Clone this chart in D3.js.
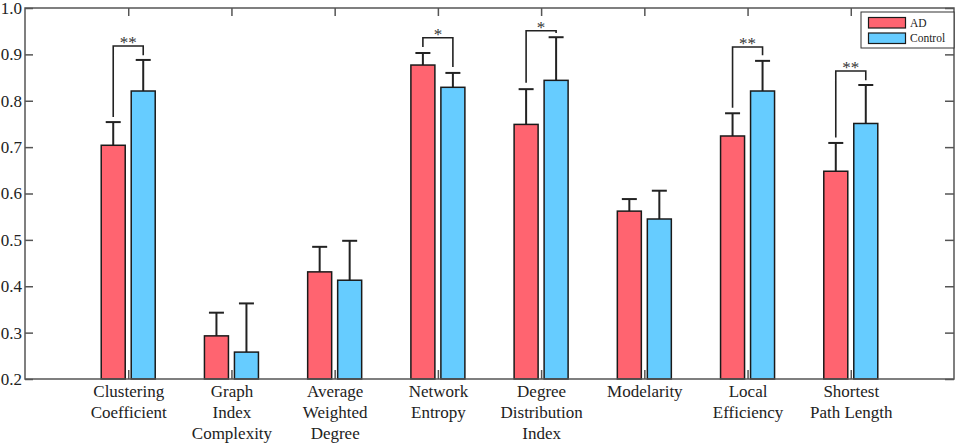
<!DOCTYPE html>
<html>
<head>
<meta charset="utf-8">
<script src="https://cdn.jsdelivr.net/npm/d3@7"></script>
<style>
  body { margin: 0; background: #fff; }
  text { font-family: "Liberation Serif", "Times New Roman", serif; }
</style>
</head>
<body>
<div class="chartBox"></div>
<script>
// chart values
var categories = ["Clustering Coefficient", "Graph Index Complexity", "Average Weighted Degree",
    "Network Entropy", "Degree Distribution Index", "Modelarity", "Local Efficiency", "Shortest Path Length"];
var labelLines = [["Clustering", "Coefficient"], ["Graph", "Index", "Complexity"], ["Average", "Weighted", "Degree"],
    ["Network", "Entropy"], ["Degree", "Distribution", "Index"], ["Modelarity"], ["Local", "Efficiency"], ["Shortest", "Path Length"]];
var adMean = [0.704, 0.293, 0.431, 0.877, 0.749, 0.562, 0.724, 0.648];
var adErr = [0.050, 0.050, 0.054, 0.026, 0.076, 0.026, 0.049, 0.061];
var ctlMean = [0.821, 0.258, 0.413, 0.829, 0.844, 0.545, 0.821, 0.751];
var ctlErr = [0.067, 0.105, 0.085, 0.031, 0.093, 0.061, 0.065, 0.083];
var yTicks = [0.2, 0.3, 0.4, 0.5, 0.6, 0.7, 0.8, 0.9, 1.0];
var groups = ["AD", "Control"];

// significance brackets
var sigCat = [0, 3, 4, 6, 7];
var sigTop = [0.918, 0.936, 0.951, 0.916, 0.864];
var sigLeft = [0.765, 0.916, 0.839, 0.785, 0.721];
var sigRight = [0.898, 0.873, 0.946, 0.898, 0.844];
var sigLabel = ["**", "*", "*", "**", "**"];

var W = 957, H = 447;
var margin = { top: 8, right: 3, bottom: 68, left: 25 };
var colors = { AD: "#ff6470", Control: "#66ccff" };

var svg = d3.select('.chartBox').append('svg')
    .attr('width', W)
    .attr('height', H);

var x = d3.scalePoint()
    .domain(categories)
    .range([margin.left, W - margin.right])
    .padding(1);

var y = d3.scaleLinear()
    .domain([0.2, 1.0])
    .range([H - margin.bottom, margin.top]);

var off = d3.scaleOrdinal().domain(groups).range([-15, 15]);
var barW = 24;

// bars
var rows = [];
categories.forEach(function (c, i) {
    rows.push({ cat: c, g: "AD", v: adMean[i], e: adErr[i] });
    rows.push({ cat: c, g: "Control", v: ctlMean[i], e: ctlErr[i] });
});

// error bars (drawn first so bars cover the stem base)
var eb = svg.append('g').attr('stroke', '#222').attr('stroke-width', 2);
eb.selectAll('.stem').data(rows).enter().append('line')
    .attr('x1', d => x(d.cat) + off(d.g))
    .attr('x2', d => x(d.cat) + off(d.g))
    .attr('y1', d => y(d.v))
    .attr('y2', d => y(d.v + d.e));
eb.selectAll('.cap').data(rows).enter().append('line')
    .attr('x1', d => x(d.cat) + off(d.g) - 7.5)
    .attr('x2', d => x(d.cat) + off(d.g) + 7.5)
    .attr('y1', d => y(d.v + d.e))
    .attr('y2', d => y(d.v + d.e));

svg.append('g').selectAll('rect').data(rows).enter().append('rect')
    .attr('x', d => x(d.cat) + off(d.g) - barW / 2)
    .attr('y', d => y(d.v))
    .attr('width', barW)
    .attr('height', d => y(0.2) - y(d.v))
    .attr('fill', d => colors[d.g])
    .attr('stroke', '#1a1a1a')
    .attr('stroke-width', 1.5);

// brackets
var br = svg.append('g');
sigCat.forEach(function (ci, k) {
    var c = categories[ci];
    var xl = x(c) + off("AD"), xr = x(c) + off("Control");
    br.append('path')
        .attr('d', 'M' + xl + ',' + y(sigLeft[k]) + 'V' + y(sigTop[k]) + 'H' + xr + 'V' + y(sigRight[k]))
        .attr('fill', 'none')
        .attr('stroke', '#222')
        .attr('stroke-width', 1.6);
    br.append('text')
        .attr('x', x(c))
        .attr('y', y(sigTop[k]) + 2)
        .attr('text-anchor', 'middle')
        .attr('fill', '#333')
        .style('font-size', '17px')
        .text(sigLabel[k]);
});

// axes and frame
function styleAxis(g) {
    g.selectAll('.domain').remove();
    g.selectAll('line').attr('stroke', '#555').attr('stroke-width', 1.5);
    g.selectAll('text').attr('fill', '#222').style('font-size', '17px');
}

svg.append('g')
    .attr('transform', 'translate(' + margin.left + ',0)')
    .call(d3.axisLeft(y).tickValues(yTicks).tickFormat(d3.format('.1f')).tickSize(-8).tickPadding(3))
    .call(styleAxis);

svg.append('g')
    .attr('transform', 'translate(' + (W - margin.right) + ',0)')
    .call(d3.axisRight(y).tickValues(yTicks).tickFormat('').tickSize(-9))
    .call(styleAxis);

svg.append('g')
    .attr('transform', 'translate(0,' + margin.top + ')')
    .call(d3.axisTop(x).tickFormat('').tickSize(-8))
    .call(styleAxis);

var bottomAxis = svg.append('g')
    .attr('transform', 'translate(0,' + (H - margin.bottom) + ')')
    .call(d3.axisBottom(x).tickSize(-9).tickPadding(6))
    .call(styleAxis);

bottomAxis.selectAll('text').each(function (d, i) {
    var t = d3.select(this).text('');
    labelLines[categories.indexOf(d)].forEach(function (line, j) {
        t.append('tspan').attr('x', 0).attr('dy', j === 0 ? '0.71em' : '1.24em').text(line);
    });
});

svg.append('rect')
    .attr('x', margin.left)
    .attr('y', margin.top)
    .attr('width', W - margin.right - margin.left)
    .attr('height', H - margin.bottom - margin.top)
    .attr('fill', 'none')
    .attr('stroke', '#555')
    .attr('stroke-width', 1.5);

// legend
var lg = svg.append('g').attr('transform', 'translate(861,12)');
lg.append('rect')
    .attr('width', 93)
    .attr('height', 36)
    .attr('fill', '#fff')
    .attr('stroke', '#333')
    .attr('stroke-width', 1);
groups.forEach(function (g, i) {
    lg.append('rect')
        .attr('x', 7.5)
        .attr('y', 5.5 + i * 15.5)
        .attr('width', 37)
        .attr('height', 10.5)
        .attr('fill', colors[g])
        .attr('stroke', '#1a1a1a')
        .attr('stroke-width', 1.2);
    lg.append('text')
        .attr('x', 49)
        .attr('y', 10.8 + i * 15.5)
        .attr('dy', '0.35em')
        .attr('fill', '#222')
        .style('font-size', '11.5px')
        .text(g);
});
</script>
</body>
</html>
